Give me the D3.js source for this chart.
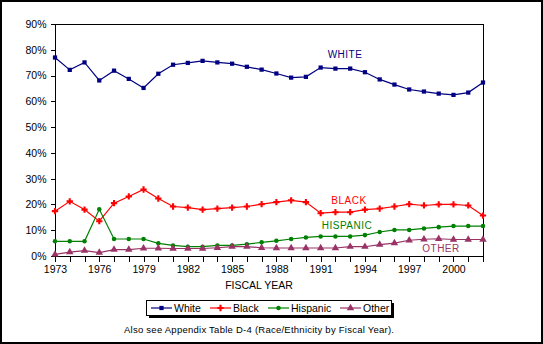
<!DOCTYPE html>
<html><head><meta charset="utf-8">
<script src="https://cdn.jsdelivr.net/npm/d3@7"></script>
<style>
body{margin:0;background:#fff;}
svg{display:block;font-family:"Liberation Sans",Arial,sans-serif;}
</style></head>
<body><svg id="c" width="543" height="344"></svg>
<script>
const years = d3.range(1973, 2003);
const white = [77.0,72.2,75.1,68.1,71.9,68.7,65.2,70.7,74.2,74.9,75.7,75.1,74.6,73.4,72.3,70.8,69.2,69.5,73.1,72.7,72.7,71.3,68.5,66.5,64.6,63.8,63.0,62.5,63.4,67.3];
const black = [17.4,21.2,18.0,13.5,20.5,23.1,25.8,22.3,19.2,18.8,18.0,18.4,18.8,19.2,20.1,20.9,21.6,20.9,16.6,17.0,17.0,18.0,18.4,19.2,20.1,19.6,20.0,20.0,19.6,15.7];
const hispanic = [5.7,5.7,5.7,18.1,6.6,6.6,6.6,4.9,4.1,3.6,3.6,4.1,4.1,4.6,5.3,5.9,6.6,7.2,7.6,7.6,7.6,8.1,9.3,10.1,10.1,10.7,11.2,11.6,11.6,11.6];
const other = [0.6,1.5,2.1,1.3,2.5,2.5,3.0,3.0,2.9,2.9,2.9,3.2,3.6,3.6,3.2,3.1,3.1,3.1,3.1,3.1,3.6,3.6,4.4,5.0,6.1,6.5,6.7,6.4,6.4,6.4];
const seriesNames = ["White","Black","Hispanic","Other"];
const seriesLabels = ["WHITE","BLACK","HISPANIC","OTHER"];
const yTicks = [0,10,20,30,40,50,60,70,80,90];
const xLabelYears = [1973,1976,1979,1982,1985,1988,1991,1994,1997,2000];
const xTitle = "FISCAL YEAR";
const footnote = "Also see Appendix Table D-4 (Race/Ethnicity by Fiscal Year).";

const colors = ["#000080","#ff0000","#008000","#993366"];
const symbols = [d3.symbolSquare, d3.symbolCross, d3.symbolCircle, d3.symbolTriangle];
const symSizes = [18, 22, 16, 24];
const data = [white, black, hispanic, other];

const svg = d3.select("#c");
// outer frame
svg.append("rect").attr("x",1).attr("y",1).attr("width",541).attr("height",342)
  .attr("fill","#fff").attr("stroke","#000").attr("stroke-width",2);

const L=55, R=483, T=24, B=256;
const x = d3.scaleLinear().domain([1973,2002]).range([L,R]);
const y = d3.scaleLinear().domain([0,90]).range([B,T]);

// plot box
svg.append("rect").attr("x",L+0.5).attr("y",T+0.5).attr("width",R-L).attr("height",B-T)
  .attr("fill","none").attr("stroke","#000").attr("shape-rendering","crispEdges");

const yAxis = d3.axisLeft(y).tickValues(yTicks).tickFormat(d=>d+"%").tickSize(5).tickPadding(4);
const gy = svg.append("g").attr("transform",`translate(${L+0.5},0)`).call(yAxis);
gy.select(".domain").remove();
gy.selectAll("text").attr("font-size","10.5px").attr("fill","#000").attr("font-family","Liberation Sans, Arial, sans-serif");
gy.selectAll("line").attr("stroke","#000").attr("shape-rendering","crispEdges");

const xAxis = d3.axisBottom(x).tickValues(years)
  .tickFormat(d=> xLabelYears.includes(d) ? String(d) : "").tickSize(5).tickPadding(4);
const gx = svg.append("g").attr("transform",`translate(0,${B+0.5})`).call(xAxis);
gx.select(".domain").remove();
gx.selectAll("text").attr("font-size","10.5px").attr("fill","#000").attr("font-family","Liberation Sans, Arial, sans-serif");
gx.selectAll("line").attr("stroke","#000").attr("shape-rendering","crispEdges");

svg.append("text").attr("x",259).attr("y",289).attr("text-anchor","middle")
  .attr("font-size","10.5px").text(xTitle);

// series
data.forEach((vals,i)=>{
  const line = d3.line().x((d,j)=>x(years[j])).y(d=>y(d));
  svg.append("path").datum(vals).attr("d",line).attr("fill","none")
    .attr("stroke",colors[i]).attr("stroke-width",1.2);
  svg.append("g").selectAll("path").data(vals).join("path")
    .attr("transform",(d,j)=>`translate(${x(years[j])},${y(d)})`)
    .attr("d",d3.symbol().type(symbols[i]).size(symSizes[i]))
    .attr("fill",colors[i]);
});

// series labels
const labelPos = [[345,57.5],[349,204],[347,229],[441,252]];
seriesLabels.forEach((t,i)=>{
  svg.append("text").attr("x",labelPos[i][0]).attr("y",labelPos[i][1])
    .attr("text-anchor","middle").attr("font-size","10px").attr("fill",colors[i])
    .attr("letter-spacing","0.5px").text(t);
});

// legend
const lg = svg.append("g");
lg.append("rect").attr("x",149).attr("y",303).attr("width",245).attr("height",15).attr("fill","#000");
lg.append("rect").attr("x",146.5).attr("y",300.5).attr("width",245).attr("height",15)
  .attr("fill","#fff").attr("stroke","#000");
const legX = [151,210,268,340];
seriesNames.forEach((n,i)=>{
  const gx0 = legX[i];
  lg.append("line").attr("x1",gx0).attr("x2",gx0+21).attr("y1",308).attr("y2",308)
    .attr("stroke",colors[i]).attr("stroke-width",1.2);
  lg.append("path").attr("transform",`translate(${gx0+10.5},308)`)
    .attr("d",d3.symbol().type(symbols[i]).size(symSizes[i])).attr("fill",colors[i]);
  lg.append("text").attr("x",gx0+23).attr("y",312).attr("font-size","10.5px").text(n);
});

svg.append("text").attr("x",259).attr("y",333).attr("text-anchor","middle")
  .attr("font-size","9.5px").attr("textLength",270).attr("lengthAdjust","spacing").text(footnote);
</script></body></html>
